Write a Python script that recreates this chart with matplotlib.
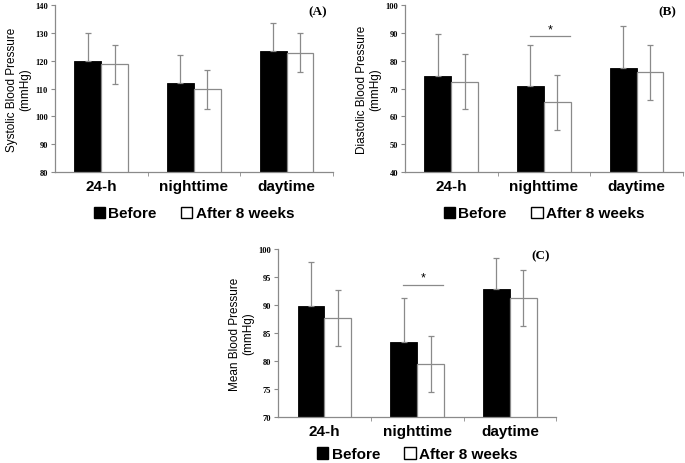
import numpy as np
import matplotlib.pyplot as plt
from matplotlib.patches import Patch

periods = ['24-h', 'nighttime', 'daytime']

sbp_before = [120.0, 112.0, 123.5]
sbp_before_err = [10.0, 10.0, 10.0]
sbp_after = [118.8, 109.8, 122.8]
sbp_after_err = [7.0, 7.0, 7.0]

dbp_before = [74.5, 70.8, 77.3]
dbp_before_err = [15.0, 15.0, 15.0]
dbp_after = [72.5, 65.0, 75.8]
dbp_after_err = [10.0, 10.0, 10.0]

mbp_before = [89.8, 83.4, 92.9]
mbp_before_err = [7.9, 7.9, 5.5]
mbp_after = [87.7, 79.4, 91.2]
mbp_after_err = [5.0, 5.0, 5.0]

fig = plt.figure(figsize=(6.85, 4.64), dpi=100)

axA = fig.add_axes([0.080, 0.627, 0.406, 0.360])
axB = fig.add_axes([0.591, 0.627, 0.406, 0.360])
axC = fig.add_axes([0.406, 0.099, 0.406, 0.362])

grey = '#8a8a8a'
w = 0.29
x = np.arange(len(periods))


def panel(ax, before, b_err, after, a_err, ylim, ystep, ylabel, tag, sig=None, leg_y=-0.16):
    ax.bar(x - w / 2, before, w, color='black', edgecolor='black', lw=0.6)
    ax.bar(x + w / 2, after, w, color='white', edgecolor=grey, lw=0.9)
    ax.errorbar(x - w / 2, before, yerr=[np.zeros(3), b_err], fmt='none',
                ecolor=grey, elinewidth=0.9, capsize=2, capthick=0.9)
    ax.errorbar(x + w / 2, after, yerr=a_err, fmt='none',
                ecolor=grey, elinewidth=0.9, capsize=2, capthick=0.9)
    ax.set_xlim(-0.5, 2.5)
    ax.set_ylim(*ylim)
    ticks = np.arange(ylim[0], ylim[1] + 0.1, ystep)
    ax.set_yticks(ticks)
    ax.set_yticklabels([str(int(v)) for v in ticks],
                       fontfamily='Liberation Serif', fontweight='bold', fontsize=6)
    ax.set_xticks(x)
    ax.set_xticklabels(periods, fontfamily='Liberation Sans', fontweight='bold', fontsize=11)
    ax.tick_params(axis='x', length=0, pad=5)
    ax.set_xticks([0.5, 1.5, 2.5], minor=True)
    ax.tick_params(axis='x', which='minor', length=3, direction='out', color=grey)
    ax.tick_params(axis='y', length=3, direction='out', color=grey, pad=2)
    for s in ['top', 'right']:
        ax.spines[s].set_visible(False)
    for s in ['left', 'bottom']:
        ax.spines[s].set_color(grey)
        ax.spines[s].set_linewidth(0.9)
    ax.set_ylabel(ylabel, fontfamily='Liberation Sans', fontsize=8.5, labelpad=3,
                  linespacing=1.1)
    ax.text(0.945, 1.0, tag, transform=ax.transAxes, ha='center', va='top',
            fontfamily='Liberation Serif', fontweight='bold', fontsize=9.5)
    if sig is not None:
        x0, x1, yv, ys = sig
        ax.plot([x0, x1], [yv, yv], color=grey, lw=0.9)
        ax.text((x0 + x1) / 2, ys, '*', ha='center', va='center', fontsize=9,
                fontfamily='Liberation Sans')
    handles = [Patch(facecolor='black', edgecolor='black'),
               Patch(facecolor='white', edgecolor='black')]
    ax.legend(handles, ['Before', 'After 8 weeks'], loc='upper center',
              bbox_to_anchor=(0.5, leg_y), ncol=2, frameon=False,
              handlelength=0.75, handleheight=0.75, handletextpad=0.2,
              columnspacing=1.6, borderpad=0,
              prop={'family': 'Liberation Sans', 'weight': 'bold', 'size': 11})


panel(axA, sbp_before, sbp_before_err, sbp_after, sbp_after_err,
      (80, 140), 10, 'Systolic Blood Pressure\n(mmHg)', '(A)')
panel(axB, dbp_before, dbp_before_err, dbp_after, dbp_after_err,
      (40, 100), 10, 'Diastolic Blood Pressure\n(mmHg)', '(B)',
      sig=(0.85, 1.28, 88.9, 91.2))
panel(axC, mbp_before, mbp_before_err, mbp_after, mbp_after_err,
      (70, 100), 5, 'Mean Blood Pressure\n(mmHg)', '(C)',
      sig=(0.85, 1.28, 93.6, 94.9), leg_y=-0.135)

fig.savefig('out.png', dpi=100)
